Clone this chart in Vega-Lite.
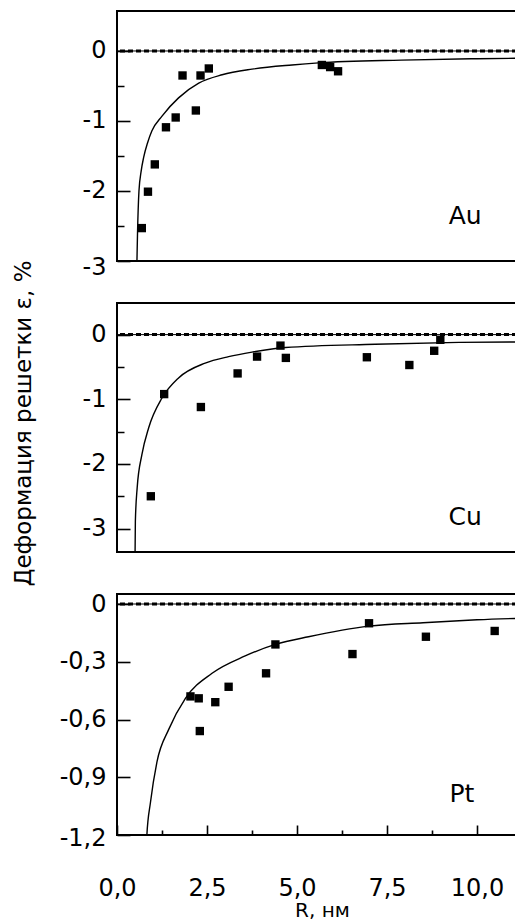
{
  "$schema": "https://vega.github.io/schema/vega-lite/v6.json",
  "background": "white",
  "padding": {"left": 10, "top": 10, "right": 0, "bottom": 0},
  "spacing": 42,
  "bounds": "flush",
  "config": {
    "view": {"stroke": "black", "strokeWidth": 2},
    "font": "DejaVu Sans",
    "axis": {
      "grid": false,
      "domain": false,
      "ticks": true,
      "tickColor": "black",
      "tickWidth": 1.6,
      "tickOpacity": 1,
      "labelColor": "black",
      "labelFont": "DejaVu Sans",
      "labelFontSize": 24,
      "labelFlush": false,
      "titleColor": "black",
      "titleFont": "DejaVu Sans",
      "titleFontWeight": "normal"
    }
  },
  "datasets": {
    "one": [{}],
    "pts": [
      {"m": "Au", "R": 0.69, "e": -2.53},
      {"m": "Au", "R": 0.86, "e": -2.01},
      {"m": "Au", "R": 1.05, "e": -1.62},
      {"m": "Au", "R": 1.36, "e": -1.09},
      {"m": "Au", "R": 1.63, "e": -0.95},
      {"m": "Au", "R": 1.82, "e": -0.35},
      {"m": "Au", "R": 2.19, "e": -0.85},
      {"m": "Au", "R": 2.32, "e": -0.35},
      {"m": "Au", "R": 2.55, "e": -0.25},
      {"m": "Au", "R": 5.69, "e": -0.2},
      {"m": "Au", "R": 5.92, "e": -0.23},
      {"m": "Au", "R": 6.14, "e": -0.29},
      {"m": "Cu", "R": 0.94, "e": -2.5},
      {"m": "Cu", "R": 1.31, "e": -0.92},
      {"m": "Cu", "R": 2.33, "e": -1.12},
      {"m": "Cu", "R": 3.35, "e": -0.6},
      {"m": "Cu", "R": 3.89, "e": -0.34},
      {"m": "Cu", "R": 4.54, "e": -0.17},
      {"m": "Cu", "R": 4.69, "e": -0.36},
      {"m": "Cu", "R": 6.94, "e": -0.35},
      {"m": "Cu", "R": 8.12, "e": -0.47},
      {"m": "Cu", "R": 8.81, "e": -0.25},
      {"m": "Cu", "R": 8.98, "e": -0.08},
      {"m": "Pt", "R": 2.04, "e": -0.48},
      {"m": "Pt", "R": 2.27, "e": -0.49},
      {"m": "Pt", "R": 2.3, "e": -0.66},
      {"m": "Pt", "R": 2.73, "e": -0.51},
      {"m": "Pt", "R": 3.1, "e": -0.43},
      {"m": "Pt", "R": 4.14, "e": -0.36},
      {"m": "Pt", "R": 4.4, "e": -0.21},
      {"m": "Pt", "R": 6.54, "e": -0.26},
      {"m": "Pt", "R": 7.0, "e": -0.1},
      {"m": "Pt", "R": 8.58, "e": -0.17},
      {"m": "Pt", "R": 10.49, "e": -0.14}
    ],
    "crv": [
      {"m": "Au", "R": 0.55, "e": -3.1},
      {"m": "Au", "R": 0.57, "e": -2.6},
      {"m": "Au", "R": 0.61, "e": -2.0},
      {"m": "Au", "R": 0.67, "e": -1.72},
      {"m": "Au", "R": 0.74, "e": -1.52},
      {"m": "Au", "R": 0.85, "e": -1.31},
      {"m": "Au", "R": 0.97, "e": -1.14},
      {"m": "Au", "R": 1.25, "e": -0.93},
      {"m": "Au", "R": 1.71, "e": -0.67},
      {"m": "Au", "R": 2.27, "e": -0.46},
      {"m": "Au", "R": 2.92, "e": -0.34},
      {"m": "Au", "R": 3.75, "e": -0.26},
      {"m": "Au", "R": 4.86, "e": -0.2},
      {"m": "Au", "R": 5.6, "e": -0.17},
      {"m": "Au", "R": 7.9, "e": -0.13},
      {"m": "Au", "R": 10.0, "e": -0.11},
      {"m": "Au", "R": 12.0, "e": -0.1},
      {"m": "Cu", "R": 0.5, "e": -3.5},
      {"m": "Cu", "R": 0.51, "e": -2.89},
      {"m": "Cu", "R": 0.56, "e": -2.37},
      {"m": "Cu", "R": 0.69, "e": -1.86},
      {"m": "Cu", "R": 0.88, "e": -1.44},
      {"m": "Cu", "R": 1.25, "e": -0.98},
      {"m": "Cu", "R": 1.71, "e": -0.67},
      {"m": "Cu", "R": 2.45, "e": -0.44},
      {"m": "Cu", "R": 3.1, "e": -0.34},
      {"m": "Cu", "R": 3.75, "e": -0.27},
      {"m": "Cu", "R": 4.68, "e": -0.2},
      {"m": "Cu", "R": 7.17, "e": -0.15},
      {"m": "Cu", "R": 9.5, "e": -0.12},
      {"m": "Cu", "R": 12.0, "e": -0.11},
      {"m": "Pt", "R": 0.82, "e": -1.25},
      {"m": "Pt", "R": 0.83, "e": -1.2},
      {"m": "Pt", "R": 0.93, "e": -1.03},
      {"m": "Pt", "R": 1.11, "e": -0.82},
      {"m": "Pt", "R": 1.44, "e": -0.65},
      {"m": "Pt", "R": 1.9, "e": -0.49},
      {"m": "Pt", "R": 2.64, "e": -0.36},
      {"m": "Pt", "R": 3.56, "e": -0.27},
      {"m": "Pt", "R": 4.4, "e": -0.21},
      {"m": "Pt", "R": 5.32, "e": -0.17},
      {"m": "Pt", "R": 7.0, "e": -0.115},
      {"m": "Pt", "R": 8.5, "e": -0.097},
      {"m": "Pt", "R": 10.0, "e": -0.082},
      {"m": "Pt", "R": 12.0, "e": -0.07}
    ],
    "lab": [
      {"m": "Au", "R": 9.67, "e": -2.36},
      {"m": "Cu", "R": 9.67, "e": -2.82},
      {"m": "Pt", "R": 9.58, "e": -0.985}
    ]
  },
  "vconcat": [
    {
      "width": 400,
      "height": 250,
      "layer": [
        {"data": {"name": "one"}, "mark": {"type": "rule", "color": "black", "strokeWidth": 1}, "encoding": {"y": {"datum": 0}}},
        {"data": {"name": "one"}, "mark": {"type": "rule", "color": "black", "strokeWidth": 3, "strokeDash": [5, 3]}, "encoding": {"y": {"datum": 0}}},
        {
          "data": {"name": "crv"},
          "transform": [{"filter": "datum.m == 'Au'"}],
          "mark": {"type": "line", "color": "black", "strokeWidth": 1.4, "clip": true, "interpolate": "monotone"},
          "encoding": {
            "x": {"field": "R", "type": "quantitative", "scale": {"domain": [0, 11.11], "nice": false, "zero": false}, "axis": null},
            "y": {
              "field": "e", "type": "quantitative",
              "scale": {"domain": [-3, 0.571], "nice": false, "zero": false},
              "axis": {
                "title": null,
                "offset": -13,
                "values": [-3, -2.5, -2, -1.5, -1, -0.5, 0],
                "tickSize": 13,
                "tickDash": {"condition": {"test": "datum.value % 1 != 0", "value": [0, 6, 7, 40]}, "value": [13, 0]},
                "labelPadding": 11,
                "labelOffset": {"condition": {"test": "datum.value == -3", "value": 6}, "value": 0},
                "labelExpr": "datum.value % 1 != 0 ? '' : (datum.value < 0 ? '-' : '') + format(abs(datum.value), 'd')"
              }
            }
          }
        },
        {
          "data": {"name": "pts"},
          "transform": [{"filter": "datum.m == 'Au'"}],
          "mark": {"type": "point", "shape": "square", "filled": true, "color": "black", "size": 70, "opacity": 1},
          "encoding": {"x": {"field": "R", "type": "quantitative"}, "y": {"field": "e", "type": "quantitative"}}
        },
        {
          "data": {"name": "lab"},
          "transform": [{"filter": "datum.m == 'Au'"}],
          "mark": {"type": "text", "fontSize": 25, "color": "black", "align": "center", "baseline": "middle", "font": "DejaVu Sans"},
          "encoding": {"x": {"field": "R", "type": "quantitative"}, "y": {"field": "e", "type": "quantitative"}, "text": {"field": "m"}}
        }
      ]
    },
    {
      "width": 400,
      "height": 249,
      "layer": [
        {"data": {"name": "one"}, "mark": {"type": "rule", "color": "black", "strokeWidth": 1}, "encoding": {"y": {"datum": 0}}},
        {"data": {"name": "one"}, "mark": {"type": "rule", "color": "black", "strokeWidth": 3, "strokeDash": [5, 3]}, "encoding": {"y": {"datum": 0}}},
        {
          "data": {"name": "crv"},
          "transform": [{"filter": "datum.m == 'Cu'"}],
          "mark": {"type": "line", "color": "black", "strokeWidth": 1.4, "clip": true, "interpolate": "monotone"},
          "encoding": {
            "x": {"field": "R", "type": "quantitative", "scale": {"domain": [0, 11.11], "nice": false, "zero": false}, "axis": null},
            "y": {
              "field": "e", "type": "quantitative",
              "scale": {"domain": [-3.362, 0.489], "nice": false, "zero": false},
              "axis": {
                "title": "Деформация решетки ε, %",
                "titleFontSize": 23,
                "titleX": -95,
                "titleY": 120,
                "titleBaseline": "bottom",
                "titleAlign": "center",
                "titleAngle": -90,
                "offset": -13,
                "values": [-3, -2.5, -2, -1.5, -1, -0.5, 0],
                "tickSize": 13,
                "tickDash": {"condition": {"test": "datum.value % 1 != 0", "value": [0, 6, 7, 40]}, "value": [13, 0]},
                "labelPadding": 11,
                "labelExpr": "datum.value % 1 != 0 ? '' : (datum.value < 0 ? '-' : '') + format(abs(datum.value), 'd')"
              }
            }
          }
        },
        {
          "data": {"name": "pts"},
          "transform": [{"filter": "datum.m == 'Cu'"}],
          "mark": {"type": "point", "shape": "square", "filled": true, "color": "black", "size": 70, "opacity": 1},
          "encoding": {"x": {"field": "R", "type": "quantitative"}, "y": {"field": "e", "type": "quantitative"}}
        },
        {
          "data": {"name": "lab"},
          "transform": [{"filter": "datum.m == 'Cu'"}],
          "mark": {"type": "text", "fontSize": 25, "color": "black", "align": "center", "baseline": "middle", "font": "DejaVu Sans"},
          "encoding": {"x": {"field": "R", "type": "quantitative"}, "y": {"field": "e", "type": "quantitative"}, "text": {"field": "m"}}
        }
      ]
    },
    {
      "width": 400,
      "height": 241,
      "layer": [
        {"data": {"name": "one"}, "mark": {"type": "rule", "color": "black", "strokeWidth": 1}, "encoding": {"y": {"datum": 0}}},
        {"data": {"name": "one"}, "mark": {"type": "rule", "color": "black", "strokeWidth": 3, "strokeDash": [5, 3]}, "encoding": {"y": {"datum": 0}}},
        {
          "data": {"name": "crv"},
          "transform": [{"filter": "datum.m == 'Pt'"}],
          "mark": {"type": "line", "color": "black", "strokeWidth": 1.4, "clip": true, "interpolate": "monotone"},
          "encoding": {
            "x": {
              "field": "R", "type": "quantitative",
              "scale": {"domain": [0, 11.11], "nice": false, "zero": false},
              "axis": {
                "title": "R, нм",
                "titleFontSize": 20,
                "titleX": 205,
                "titleY": 91,
                "titleBaseline": "alphabetic",
                "offset": -10,
                "values": [0, 1.25, 2.5, 3.75, 5, 6.25, 7.5, 8.75, 10],
                "tickSize": 10,
                "tickDash": {"condition": {"test": "abs(round(datum.value / 2.5) * 2.5 - datum.value) > 0.01", "value": [0, 5, 5, 40]}, "value": [10, 0]},
                "labelPadding": 36,
                "labelBaseline": "alphabetic",
                "labelLineHeight": 24,
                "labelExpr": "abs(round(datum.value / 2.5) * 2.5 - datum.value) > 0.01 ? '' : ['', replace(format(datum.value, '.1f'), '.', ',')]"
              }
            },
            "y": {
              "field": "e", "type": "quantitative",
              "scale": {"domain": [-1.2, 0.052], "nice": false, "zero": false},
              "axis": {
                "title": null,
                "offset": -13,
                "values": [-1.2, -1.05, -0.9, -0.75, -0.6, -0.45, -0.3, -0.15, 0],
                "tickSize": 13,
                "tickDash": {"condition": {"test": "abs(round(datum.value / 0.3) * 0.3 - datum.value) > 0.01", "value": [0, 6, 7, 40]}, "value": [13, 0]},
                "labelPadding": 11,
                "labelOffset": {"condition": {"test": "datum.value < -1.1", "value": 3}, "value": 0},
                "labelExpr": "abs(round(datum.value / 0.3) * 0.3 - datum.value) > 0.01 ? '' : (datum.value == 0 ? '0' : '-' + replace(format(abs(datum.value), '.1f'), '.', ','))"
              }
            }
          }
        },
        {
          "data": {"name": "pts"},
          "transform": [{"filter": "datum.m == 'Pt'"}],
          "mark": {"type": "point", "shape": "square", "filled": true, "color": "black", "size": 70, "opacity": 1},
          "encoding": {"x": {"field": "R", "type": "quantitative"}, "y": {"field": "e", "type": "quantitative"}}
        },
        {
          "data": {"name": "lab"},
          "transform": [{"filter": "datum.m == 'Pt'"}],
          "mark": {"type": "text", "fontSize": 25, "color": "black", "align": "center", "baseline": "middle", "font": "DejaVu Sans"},
          "encoding": {"x": {"field": "R", "type": "quantitative"}, "y": {"field": "e", "type": "quantitative"}, "text": {"field": "m"}}
        }
      ]
    }
  ]
}
